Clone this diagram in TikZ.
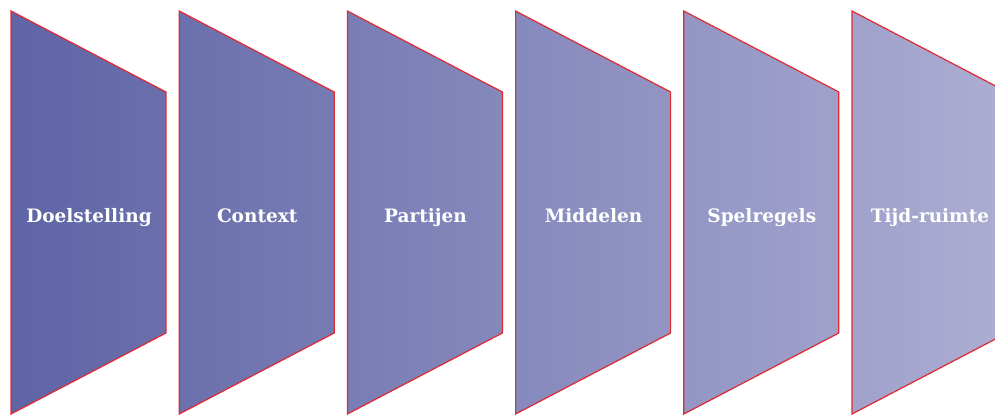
\documentclass[tikz,border=0pt]{standalone}
\usepackage{fontspec}
\setmainfont{DejaVu Serif}
\definecolor{cstart}{RGB}{94,100,165}
\definecolor{cend}{RGB}{179,179,214}
\definecolor{edgered}{RGB}{226,40,50}
\begin{document}
\begin{tikzpicture}[x=1pt,y=-1pt,
  stage/.style={draw=edgered, line width=1.2pt},
  lbl/.style={text=white, font=\bfseries\fontsize{18.5}{21}\selectfont, inner sep=0pt, anchor=base}]
\useasboundingbox (0,0) rectangle (995,415);
\begin{scope}
\clip (0,0) rectangle (995,415);
\foreach \i/\t in {0/Doelstelling,1/Context,2/Partijen,3/Middelen,4/Spelregels,5/Tijd-ruimte}{
  \pgfmathsetmacro{\xl}{11+168.2*\i}
  \pgfmathsetmacro{\ca}{100*\i/6.4}
  \pgfmathsetmacro{\cb}{100*(\i+0.92)/6.4}
  \colorlet{cl}{cend!\ca!cstart}
  \colorlet{cr}{cend!\cb!cstart}
  \shade[left color=cl, right color=cr, stage]
     (\xl,11) -- (\xl+155,92) -- (\xl+155,333) -- (\xl,414) -- cycle;
  \node[lbl] (n\i) at (\xl+78,222) {\t};
}
\end{scope}
\end{tikzpicture}
\end{document}
